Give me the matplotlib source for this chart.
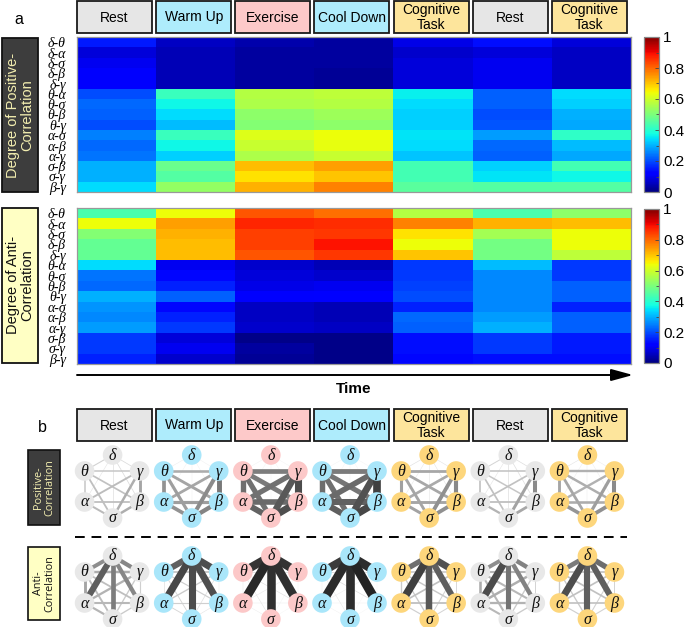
import matplotlib
matplotlib.use('Agg')
import matplotlib.pyplot as plt
import numpy as np
from matplotlib.patches import Rectangle, Circle
from matplotlib.ticker import MultipleLocator

# ---------------- data ----------------
phases = ['Rest', 'Warm Up', 'Exercise', 'Cool Down', 'Cognitive\nTask', 'Rest', 'Cognitive\nTask']
phase_kind = ['rest', 'warm', 'exercise', 'warm', 'cog', 'rest', 'cog']
pairs = ['δ-θ', 'δ-α', 'δ-σ', 'δ-β', 'δ-γ', 'θ-α', 'θ-σ', 'θ-β', 'θ-γ',
         'α-σ', 'α-β', 'α-γ', 'σ-β', 'σ-γ', 'β-γ']

# degree of positive correlation, one list per phase (rows in `pairs` order)
pos_rest1 = [0.15, 0.08, 0.10, 0.11, 0.11, 0.20, 0.23, 0.22, 0.20, 0.25, 0.23, 0.24, 0.30, 0.30, 0.34]
pos_warm = [0.06, 0.05, 0.05, 0.05, 0.05, 0.42, 0.37, 0.34, 0.31, 0.42, 0.37, 0.33, 0.48, 0.45, 0.53]
pos_exer = [0.04, 0.03, 0.03, 0.03, 0.03, 0.57, 0.56, 0.52, 0.51, 0.62, 0.59, 0.56, 0.71, 0.67, 0.72]
pos_cool = [0.03, 0.03, 0.03, 0.02, 0.02, 0.58, 0.57, 0.54, 0.52, 0.64, 0.63, 0.59, 0.74, 0.70, 0.77]
pos_cog1 = [0.09, 0.07, 0.08, 0.08, 0.08, 0.36, 0.34, 0.33, 0.33, 0.35, 0.34, 0.32, 0.43, 0.43, 0.46]
pos_rest2 = [0.14, 0.08, 0.10, 0.10, 0.10, 0.22, 0.22, 0.20, 0.21, 0.28, 0.23, 0.22, 0.33, 0.35, 0.45]
pos_cog2 = [0.08, 0.06, 0.06, 0.06, 0.06, 0.34, 0.33, 0.30, 0.29, 0.41, 0.31, 0.29, 0.43, 0.37, 0.45]

# degree of anti-correlation
anti_rest1 = [0.44, 0.64, 0.51, 0.47, 0.47, 0.34, 0.24, 0.23, 0.30, 0.27, 0.26, 0.28, 0.18, 0.18, 0.16]
anti_warm = [0.64, 0.74, 0.72, 0.71, 0.71, 0.10, 0.13, 0.16, 0.22, 0.13, 0.16, 0.18, 0.08, 0.10, 0.07]
anti_exer = [0.82, 0.87, 0.84, 0.84, 0.82, 0.07, 0.08, 0.09, 0.11, 0.06, 0.06, 0.07, 0.01, 0.03, 0.02]
anti_cool = [0.79, 0.86, 0.85, 0.89, 0.85, 0.05, 0.07, 0.10, 0.12, 0.05, 0.05, 0.06, 0.01, 0.01, 0.01]
anti_cog1 = [0.57, 0.77, 0.67, 0.64, 0.70, 0.18, 0.18, 0.19, 0.20, 0.16, 0.23, 0.22, 0.14, 0.14, 0.13]
anti_rest2 = [0.44, 0.72, 0.55, 0.49, 0.49, 0.31, 0.26, 0.26, 0.26, 0.26, 0.28, 0.30, 0.18, 0.18, 0.14]
anti_cog2 = [0.52, 0.71, 0.64, 0.64, 0.58, 0.18, 0.18, 0.22, 0.22, 0.16, 0.22, 0.22, 0.15, 0.15, 0.14]

pos = np.array([pos_rest1, pos_warm, pos_exer, pos_cool, pos_cog1, pos_rest2, pos_cog2]).T
anti = np.array([anti_rest1, anti_warm, anti_exer, anti_cool, anti_cog1, anti_rest2, anti_cog2]).T

cbar_ticks = [0, 0.2, 0.4, 0.6, 0.8, 1]
cbar_labels = ['0', '0.2', '0.4', '0.6', '0.8', '1']

# ---------------- styles ----------------
box_colors = {'rest': '#e6e6e6', 'warm': '#aeecfc', 'exercise': '#fdc9c9', 'cog': '#fde59c'}
node_colors = {'rest': '#e8e8e8', 'warm': '#a9e6fa', 'exercise': '#fcc8c8', 'cog': '#fdd67c'}
SANS = 'Liberation Sans'
SERIF = 'Liberation Serif'

W, H = 685, 627
fig = plt.figure(figsize=(W / 100, H / 100), dpi=100)

ov = fig.add_axes([0, 0, 1, 1])
ov.set_xlim(0, W)
ov.set_ylim(H, 0)
ov.axis('off')


def fax(x0, y0, x1, y1):
    return fig.add_axes([x0 / W, 1 - y1 / H, (x1 - x0) / W, (y1 - y0) / H])


HX0, HX1 = 77, 631
colw = (HX1 - HX0) / len(phases)
col_centers = [HX0 + colw * (i + 0.5) for i in range(len(phases))]


def draw_heat(ax, cax, data):
    im = ax.imshow(data, cmap='jet', vmin=0, vmax=1, aspect='auto', interpolation='nearest')
    ax.set_xticks([])
    ax.set_yticks(range(len(pairs)))
    ax.set_yticklabels(pairs, fontfamily=SERIF, fontstyle='italic', fontsize=10)
    ax.tick_params(axis='y', length=0, pad=8)
    for s in ax.spines.values():
        s.set_color('#999999')
        s.set_linewidth(0.9)
    cb = fig.colorbar(im, cax=cax, ticks=cbar_ticks)
    cb.ax.set_yticklabels(cbar_labels, fontfamily=SANS, fontsize=11)
    cb.ax.yaxis.set_minor_locator(MultipleLocator(0.1))
    cb.ax.tick_params(which='major', direction='in', length=3, width=0.6, color='#444444', pad=3)
    cb.ax.tick_params(which='minor', direction='in', length=2, width=0.6, color='#444444')
    cb.outline.set_edgecolor('#888888')
    cb.outline.set_linewidth(0.9)


draw_heat(fax(HX0, 37, HX1, 192), fax(644, 37, 659, 192), pos)
draw_heat(fax(HX0, 208, HX1, 364), fax(644, 209, 659, 363), anti)


def header(y0, y1):
    for cx, lab, kind in zip(col_centers, phases, phase_kind):
        bx = cx - 2
        ov.add_patch(Rectangle((bx - 37.5, y0), 75, y1 - y0, fc=box_colors[kind],
                               ec='#1a1a1a', lw=1.3))
        ov.text(bx, (y0 + y1) / 2 + 0.5, lab, ha='center', va='center', fontsize=10,
                family=SANS, linespacing=1.05)


header(1, 33)
header(409, 441)

# panel letters
ov.text(19, 20, 'a', fontsize=11.5, family=SANS, ha='center', va='center')
ov.text(42, 428, 'b', fontsize=11.5, family=SANS, ha='center', va='center')

# side boxes panel a
ov.add_patch(Rectangle((2, 38), 36, 154, fc='#3d3d3d', ec='#111111', lw=1.3))
ov.text(20.5, 115, 'Degree of Positive-\nCorrelation', rotation=90, ha='center', va='center',
        fontsize=10.5, family=SANS, color='#f3eeb0', linespacing=1.0)
ov.add_patch(Rectangle((2, 208), 36, 155, fc='#ffffc4', ec='#111111', lw=1.3))
ov.text(20.5, 285, 'Degree of Anti-\nCorrelation', rotation=90, ha='center', va='center',
        fontsize=10.5, family=SANS, color='#111111', linespacing=1.0)

# time arrow
ov.annotate('', xy=(633, 375), xytext=(77, 375),
            arrowprops=dict(arrowstyle='-|>,head_length=1.1,head_width=0.3', lw=1.4,
                            color='black', mutation_scale=12, shrinkA=0, shrinkB=0))
ov.text(354, 389, 'Time', ha='center', va='center', fontsize=11, fontweight='bold', family=SANS)

# side boxes panel b
ov.add_patch(Rectangle((28, 450), 32, 75, fc='#3d3d3d', ec='#111111', lw=1.2))
ov.text(44, 487.5, 'Positive-\nCorrelation', rotation=90, ha='center', va='center',
        fontsize=7.8, family='Open Sans', color='#f3eeb0', linespacing=1.0)
ov.add_patch(Rectangle((28, 547), 32, 73, fc='#ffffc4', ec='#111111', lw=1.2))
ov.text(44, 583.5, 'Anti-\nCorrelation', rotation=90, ha='center', va='center',
        fontsize=7.8, family='Open Sans', color='#111111', linespacing=1.0)

# dashed separator
ov.plot([75, 627], [537, 537], color='black', lw=1.4, dashes=(5, 3.5))

# networks
node_off = {'δ': (0, 0), 'θ': (-28, 16), 'γ': (27, 16), 'α': (-28, 47), 'β': (27, 47), 'σ': (0, 63)}


def network(cx, y0, values, kind):
    order = np.argsort(values)
    for k in order:
        v = values[k]
        a, b = pairs[k].split('-')
        xa, ya = cx + node_off[a][0], y0 + node_off[a][1]
        xb, yb = cx + node_off[b][0], y0 + node_off[b][1]
        lw = max(0.3, 10.5 * v ** 1.2) * 0.72
        g = max(0.12, 0.96 - 0.92 * v)
        ov.plot([xa, xb], [ya, yb], color=(g, g, g), lw=lw, solid_capstyle='butt',
                zorder=2 + v)
    for n, (dx, dy) in node_off.items():
        ov.add_patch(Circle((cx + dx, y0 + dy), 9.8, fc=node_colors[kind], ec='none', zorder=5))
        ov.text(cx + dx, y0 + dy + 0.5, n, ha='center', va='center', fontsize=11.5,
                family=SERIF, fontstyle='italic', zorder=6, color='#111111')


for i, kind in enumerate(phase_kind):
    network(col_centers[i] - 4, 455, pos[:, i], kind)
    network(col_centers[i] - 4, 556, anti[:, i], kind)

fig.savefig('out.png', dpi=100)
